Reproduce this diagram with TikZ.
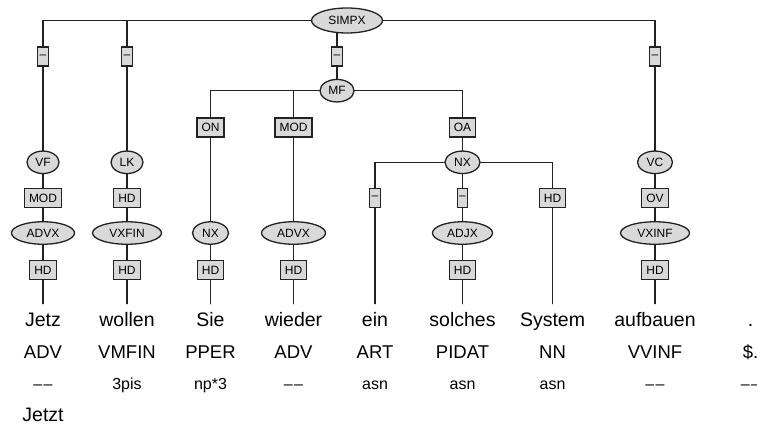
\documentclass[tikz,border=0pt]{standalone}
\usepackage{fontspec}
\setmainfont{Liberation Sans}
\usetikzlibrary{shapes.geometric,backgrounds}
\definecolor{ink}{HTML}{222222}
\definecolor{shade}{HTML}{D9D9D9}

\begin{document}
\begin{tikzpicture}[
  x=1pt, y=-1pt,
  every path/.style={line cap=round},
  cat/.style={ellipse, draw=ink, line width=1.3pt, fill=shade, inner sep=0pt, minimum height=22.5pt, minimum width=#1, font=\fontsize{12}{14}\selectfont},
  fn/.style={rectangle, draw=ink, line width=1.3pt, fill=shade, inner xsep=4.5pt, inner ysep=0pt, minimum height=19pt, font=\fontsize{12}{14}\selectfont},
  nofn/.style={fn, inner xsep=2pt},
  word/.style={anchor=base, inner sep=0pt, text height=14pt, font=\fontsize{19.5}{22}\selectfont},
  tag/.style={anchor=base, inner sep=0pt, font=\fontsize{18.5}{22}\selectfont},
  morph/.style={anchor=base, inner sep=0pt, font=\fontsize{16}{19}\selectfont},
  edge/.style={ink, line width=1.1pt},
]
\useasboundingbox (0,0) rectangle (757,425);

% ---------- sentence node and topological fields ----------
\node[cat=71pt, minimum height=25pt] (simpx) at (347,20.5) {SIMPX};
\node[nofn] (t1) at (43,56.5)  {–};
\node[nofn] (t2) at (127,56.5) {–};
\node[nofn] (t3) at (337,56.5) {–};
\node[nofn] (t4) at (655,56.5) {–};

\node[cat=34pt] (mf) at (337,90.7) {MF};
\node[fn] (on)  at (210.5,127.5) {ON};
\node[fn] (mod) at (293.5,127.5) {MOD};
\node[fn] (oa)  at (462.5,127.5) {OA};

\node[cat=32pt] (vf) at (43,162.3)    {VF};
\node[cat=32pt] (lk) at (127,162.3)   {LK};
\node[cat=35pt] (nx) at (462.5,162.3) {NX};
\node[cat=35pt] (vc) at (655,162.3)   {VC};

% ---------- phrases ----------
\node[fn]   (f1) at (43,198)    {MOD};
\node[fn]   (f2) at (127,198)   {HD};
\node[nofn] (f3) at (375,198)   {–};
\node[nofn] (f4) at (462.5,198) {–};
\node[fn]   (f5) at (552.5,198) {HD};
\node[fn]   (f6) at (655,198)   {OV};

\node[cat=63pt] (advx1) at (43,233)    {ADVX};
\node[cat=69pt] (vxfin) at (127,233)   {VXFIN};
\node[cat=36pt] (nxs)   at (210.5,233) {NX};
\node[cat=64pt] (advx2) at (293.5,233) {ADVX};
\node[cat=60pt] (adjx)  at (462.5,233) {ADJX};
\node[cat=69pt] (vxinf) at (655,233)   {VXINF};

\foreach \i/\x in {1/43, 2/127, 3/210.5, 4/293.5, 6/462.5, 8/655}
  \node[fn] (h\i) at (\x,270) {HD};

% ---------- tokens: word, tag, morphology ----------
\foreach \i/\x/\w/\p/\m in {1/43/Jetz/ADV/–\kern1.5pt–, 2/127/wollen/VMFIN/3pis,
    3/210.5/Sie/PPER/np*3, 4/293.5/wieder/ADV/–\kern1.5pt–, 5/375/ein/ART/asn,
    6/462.5/solches/PIDAT/asn, 7/552.5/System/NN/asn,
    8/655/aufbauen/VVINF/–\kern1.5pt–, 9/750.5/./\$./–\kern1.5pt–}
{
  \node[word]  (w\i) at (\x,326)   {\w};
  \node[tag]   (p\i) at (\x,358.3) {\p};
  \node[morph] (m\i) at (\x,389.3) {\m};
}
\node[word] (lem1) at (43,421) {Jetzt};

\begin{scope}[on background layer]
  \foreach \a/\b in {simpx/t1, simpx/t2, simpx/t3, simpx/t4,
                     t1/vf, t2/lk, t3/mf, t4/vc,
                     mf/on, mf/mod, mf/oa, on/nxs, mod/advx2, oa/nx,
                     vf/f1, lk/f2, nx/f3, nx/f4, nx/f5, vc/f6,
                     f1/advx1, f2/vxfin, f4/adjx, f6/vxinf,
                     advx1/h1, vxfin/h2, nxs/h3, advx2/h4, adjx/h6, vxinf/h8}
    \draw[edge] (\a.center) -| (\b.center);
  \foreach \a/\b in {h1/w1, h2/w2, h3/w3, h4/w4, f3/w5, h6/w6, f5/w7, h8/w8}
    \draw[edge, shorten >=8pt] (\a.center) -- (\b.north);
\end{scope}

\end{tikzpicture}
\end{document}
